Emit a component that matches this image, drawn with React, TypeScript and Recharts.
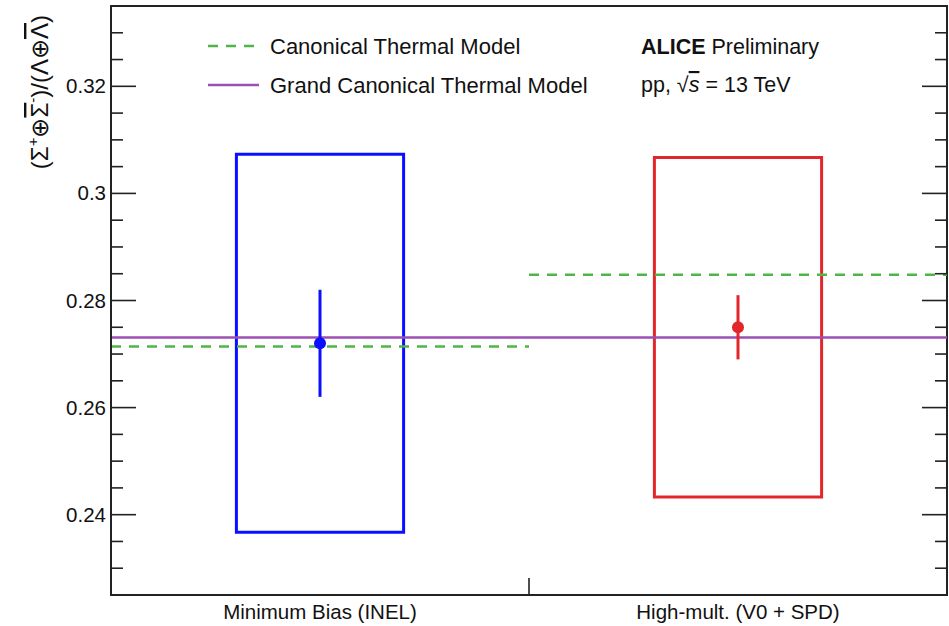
import React from 'react';
import {
  ComposedChart, XAxis, YAxis, Scatter, ErrorBar, ReferenceArea, ReferenceLine,
} from 'recharts';

// data
const categories = ['Minimum Bias (INEL)', 'High-mult. (V0 + SPD)'];
const binCenters = [0.5, 1.5];
const ratioValues = [0.272, 0.275];
const statErrors = [0.010, 0.006];
const sysErrors = [0.0353, 0.0317];
const boxHalfWidth = 0.2;
const canonicalValues = [0.2714, 0.2848];
const grandCanonicalValue = 0.2731;

const yMajorTicks = [0.24, 0.26, 0.28, 0.3, 0.32];
const yAllTicks = [
  0.23, 0.235, 0.24, 0.245, 0.25, 0.255, 0.26, 0.265, 0.27, 0.275, 0.28,
  0.285, 0.29, 0.295, 0.3, 0.305, 0.31, 0.315, 0.32, 0.325, 0.33,
];
const yTickLabels = ['0.24', '0.26', '0.28', '0.3', '0.32'];

const W = 949;
const H = 626;
const PLOT_LEFT = 111;
const PLOT_RIGHT = 947;
const PLOT_BOTTOM = 595;
const FONT = '"Liberation Sans", Arial, Helvetica, sans-serif';
const AXIS = '#222';
const BLUE = '#0a10ff';
const RED = '#e3262b';
const GREEN = '#4fb548';
const PURPLE = '#9b4fb3';

const pointColors = [BLUE, RED];

const YTick = (props: any) => {
  const { y, payload } = props;
  const v = payload.value;
  const idx = yMajorTicks.findIndex(m => Math.abs(m - v) < 1e-6);
  const major = idx >= 0;
  const len = major ? 25 : 12;
  return (
    <g>
      <line x1={PLOT_LEFT} x2={PLOT_LEFT + len} y1={y} y2={y} stroke={AXIS} strokeWidth={1.6} />
      <line x1={PLOT_RIGHT} x2={PLOT_RIGHT - len} y1={y} y2={y} stroke={AXIS} strokeWidth={1.6} />
      {major && (
        <text x={PLOT_LEFT - 5} y={y + 7} textAnchor="end" fontSize={20.5} fontFamily={FONT} fill="#111">
          {yTickLabels[idx]}
        </text>
      )}
    </g>
  );
};

const XTick = (props: any) => {
  const { x, payload } = props;
  const v = payload.value;
  const idx = binCenters.indexOf(v);
  if (idx < 0) {
    return <line x1={x} x2={x} y1={PLOT_BOTTOM} y2={PLOT_BOTTOM - 17} stroke={AXIS} strokeWidth={1.6} />;
  }
  return (
    <text x={x} y={619} textAnchor="middle" fontSize={20.5} fontFamily={FONT} fill="#111">
      {categories[idx]}
    </text>
  );
};

const YLabel = () => (
  <text
    transform="translate(48,15) rotate(-90)"
    textAnchor="end"
    fontSize={24}
    fontFamily={FONT}
    fill="#111"
  >
    <tspan>(Σ</tspan>
    <tspan fontSize={15} dy={-10}>+</tspan>
    <tspan dy={10}>⊕</tspan>
    <tspan style={{ textDecoration: 'overline' }}>Σ</tspan>
    <tspan fontSize={15} dy={-10}>-</tspan>
    <tspan dy={10}>)/(Λ⊕</tspan>
    <tspan style={{ textDecoration: 'overline' }}>Λ</tspan>
    <tspan>)</tspan>
  </text>
);

const pointData = binCenters.map((x, i) => ({
  x, y: ratioValues[i], stat: statErrors[i],
}));

export default function App() {
  return (
    <div style={{ position: 'absolute', left: 0, top: 0, width: W, height: H, background: '#fff' }}>
      <ComposedChart width={W} height={H} margin={{ top: 6, right: W - PLOT_RIGHT, bottom: 0, left: 0 }}>
        <XAxis
          type="number"
          dataKey="x"
          domain={[0, 2]}
          ticks={[0.5, 1, 1.5]}
          allowDataOverflow
          height={H - PLOT_BOTTOM}
          tickLine={false}
          axisLine={{ stroke: AXIS, strokeWidth: 2 }}
          tick={<XTick />}
          interval={0}
        />
        <YAxis
          type="number"
          dataKey="y"
          domain={[0.225, 0.335]}
          ticks={yAllTicks}
          allowDataOverflow
          width={PLOT_LEFT}
          tickLine={false}
          axisLine={{ stroke: AXIS, strokeWidth: 2 }}
          tick={<YTick />}
          interval={0}
          label={<YLabel />}
        />
        {/* frame */}
        <ReferenceArea x1={0} x2={2} y1={0.225} y2={0.335} fill="none" stroke={AXIS} strokeWidth={2} />
        {/* thermal models */}
        <ReferenceLine y={grandCanonicalValue} stroke={PURPLE} strokeWidth={2.5} />
        <ReferenceLine
          segment={[{ x: 0, y: canonicalValues[0] }, { x: 1, y: canonicalValues[0] }]}
          stroke={GREEN} strokeWidth={2.5} strokeDasharray="10 8"
        />
        <ReferenceLine
          segment={[{ x: 1, y: canonicalValues[1] }, { x: 2, y: canonicalValues[1] }]}
          stroke={GREEN} strokeWidth={2.5} strokeDasharray="10 8"
        />
        {/* systematic boxes */}
        {binCenters.map((c, i) => (
          <ReferenceArea
            key={'box' + i}
            x1={c - boxHalfWidth}
            x2={c + boxHalfWidth}
            y1={ratioValues[i] - sysErrors[i]}
            y2={ratioValues[i] + sysErrors[i]}
            fill="none"
            fillOpacity={0}
            stroke={pointColors[i]}
            strokeWidth={3}
          />
        ))}
        {pointData.map((d, i) => (
          <Scatter
            key={'pt' + i}
            data={[d]}
            fill={pointColors[i]}
            isAnimationActive={false}
            shape={(p: any) => <circle cx={p.cx} cy={p.cy} r={6} fill={pointColors[i]} />}
          >
            <ErrorBar dataKey="stat" direction="y" width={0} stroke={pointColors[i]} strokeWidth={3} isAnimationActive={false} />
          </Scatter>
        ))}
      </ComposedChart>
      <svg width={W} height={H} style={{ position: 'absolute', left: 0, top: 0, pointerEvents: 'none' }}>
        <line x1={208} x2={254} y1={46} y2={46} stroke={GREEN} strokeWidth={2.5} strokeDasharray="10 8" />
        <line x1={208} x2={259} y1={85} y2={85} stroke={PURPLE} strokeWidth={2.5} />
        <text x={270} y={54} fontSize={22} fontFamily={FONT} fill="#111">Canonical Thermal Model</text>
        <text x={270} y={93} fontSize={22} fontFamily={FONT} fill="#111">Grand Canonical Thermal Model</text>
        <text x={641} y={54} fontSize={21.5} fontFamily={FONT} fill="#111">
          <tspan fontWeight="bold">ALICE</tspan> Preliminary
        </text>
        <text x={641} y={92} fontSize={21.5} fontFamily={FONT} fill="#111">
          pp, √<tspan fontStyle="italic" style={{ textDecoration: 'overline' }}>s</tspan> = 13 TeV
        </text>
      </svg>
    </div>
  );
}
